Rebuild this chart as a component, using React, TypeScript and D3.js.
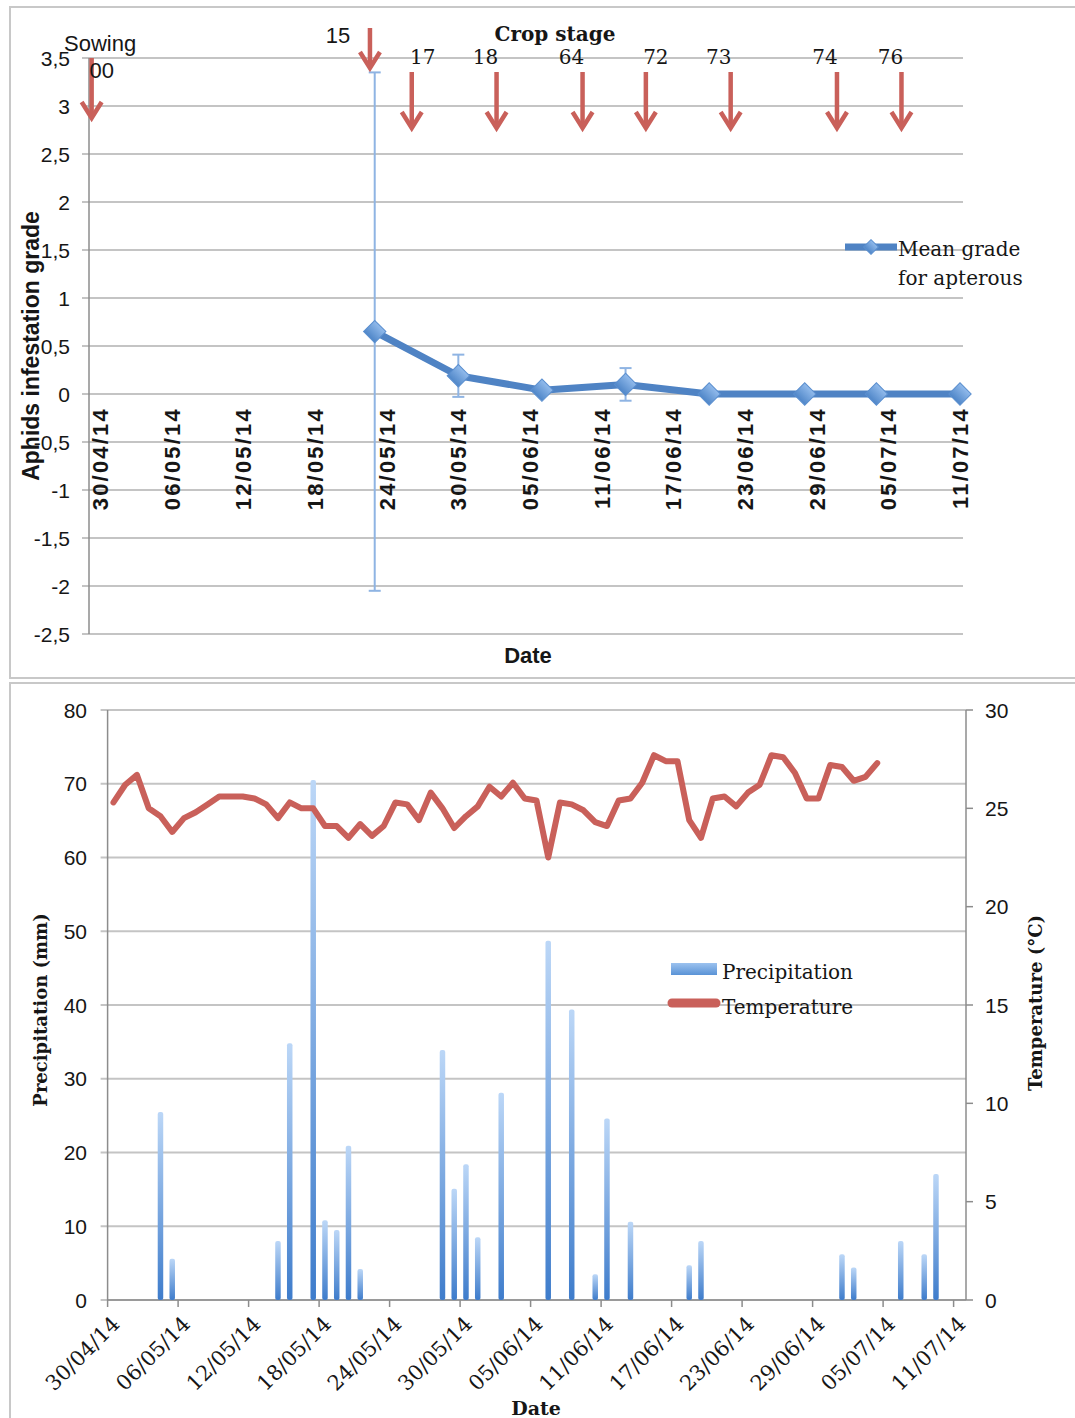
import React from 'react';
import * as d3 from 'd3';

const parse = d3.timeParse('%d/%m/%Y');
const START = '30/04/2014';
const END = '11/07/2014';

// Aphid survey: mean infestation grade of apterous aphids and its error
const surveyDates = ['23/05/2014', '30/05/2014', '06/06/2014', '13/06/2014', '20/06/2014', '28/06/2014', '04/07/2014', '11/07/2014'];
const meanGrade = [0.65, 0.19, 0.04, 0.1, 0, 0, 0, 0];
const gradeError = [2.7, 0.22, 0, 0.17, 0, 0, 0, 0];
const gradeTicks = [3.5, 3, 2.5, 2, 1.5, 1, 0.5, 0, -0.5, -1, -1.5, -2, -2.5];

// Crop stage annotations (BBCH code, days after 30/04/14)
const stageCodes = ['00', '15', '17', '18', '64', '72', '73', '74', '76'];
const stageDays = [-0.7, 22.6, 26.1, 33.2, 40.4, 45.7, 52.8, 61.7, 67.1];

// Daily weather
const rainDates = ['04/05', '05/05', '14/05', '15/05', '17/05', '18/05', '19/05', '20/05', '21/05', '28/05', '29/05', '30/05', '31/05', '02/06', '06/06', '08/06', '10/06', '11/06', '13/06', '18/06', '19/06', '01/07', '02/07', '06/07', '08/07', '09/07'];
const rainMm = [25.5, 5.6, 8, 34.8, 70.5, 10.8, 9.5, 20.9, 4.2, 33.9, 15.1, 18.4, 8.5, 28.1, 48.7, 39.4, 3.5, 24.6, 10.6, 4.7, 8, 6.2, 4.4, 8, 6.2, 17.1];
// mean daily temperature from 30/04/14, one value per day
const dailyTemp = [
  25.3, 26.2, 26.7, 25.0, 24.6, 23.8, 24.5, 24.8, 25.2, 25.6,
  25.6, 25.6, 25.5, 25.2, 24.5, 25.3, 25.0, 25.0, 24.1, 24.1,
  23.5, 24.2, 23.6, 24.1, 25.3, 25.2, 24.4, 25.8, 25.0, 24.0,
  24.6, 25.1, 26.1, 25.6, 26.3, 25.5, 25.4, 22.5, 25.3, 25.2,
  24.9, 24.3, 24.1, 25.4, 25.5, 26.3, 27.7, 27.4, 27.4, 24.4,
  23.5, 25.5, 25.6, 25.1, 25.8, 26.2, 27.7, 27.6, 26.8, 25.5,
  25.5, 27.2, 27.1, 26.4, 26.6, 27.3,
];
const rainTicks = [0, 10, 20, 30, 40, 50, 60, 70, 80];
const tempTicks = [0, 5, 10, 15, 20, 25, 30];

const SANS = "'Liberation Sans', Arial, sans-serif";
const SERIF = "'DejaVu Serif', serif";
const GRID = '#c4c4c4';
const AXIS = '#8c8c8c';
const BLUE = '#4f83c4';
const RED = '#c9605a';
const INK = '#161616';

const DAY = 864e5;
const fmtComma = (v: number) => String(v).replace('.', ',');
const fmtDate = d3.timeFormat('%d/%m/%y');

export default function App() {
  const start = parse(START)!;
  const end = parse(END)!;
  const dayOffset = (d: number) => new Date(start.getTime() + d * DAY);
  const axisDates = d3.range(0, 13).map((i) => d3.timeDay.offset(start, i * 6));

  // ---------- upper panel: aphid grade ----------
  const xTop = d3.scaleTime().domain([start, end]).range([100, 960]);
  const yTop = d3.scaleLinear().domain([-2.5, 3.5]).range([634, 58]);
  const topLeft = 89;
  const topRight = 963;
  const survey = surveyDates.map((s, i) => ({ date: parse(s)!, v: meanGrade[i], e: gradeError[i] }));
  const gradeLine = d3.line<{ date: Date; v: number }>().x((d) => xTop(d.date)).y((d) => yTop(d.v));
  const diamond = d3.symbol(d3.symbolSquare, 250)()!;
  const smallDiamond = d3.symbol(d3.symbolSquare, 110)()!;

  // arrow geometry of the stage annotations
  const arrowSpan = (i: number) => (i === 0 ? [58, 118] : i === 1 ? [28, 68] : [72, 128]);
  const labelShift = [10, -32, 11, -11, -11, 10, -12, -12, -11];

  // ---------- lower panel: weather ----------
  const xBot = d3.scaleTime().domain([start, end]).range([107.6, 953.6]);
  const botLeft = xBot(start);
  const botRight = 966;
  const yRain = d3.scaleLinear().domain([0, 80]).range([1300, 710]);
  const yTemp = d3.scaleLinear().domain([0, 30]).range([1300, 710]);
  const noon = (d: Date) => new Date(d.getTime() + DAY / 2);
  const rain = rainDates.map((s, i) => ({ date: parse(s + '/2014')!, v: rainMm[i] }));
  const temps = dailyTemp.map((t, i) => ({ date: d3.timeDay.offset(start, i), v: t }));
  const tempLine = d3
    .line<{ date: Date; v: number }>()
    .x((d) => xBot(noon(d.date)))
    .y((d) => yTemp(d.v));
  const barW = 5.5;

  const arrow = (x: number, y0: number, y1: number, key: string) => (
    <g key={key} stroke={RED} strokeWidth={4.5} fill="none">
      <line x1={x} x2={x} y1={y0} y2={y1 - 2} />
      <path d={`M${x - 10},${y1 - 16}L${x},${y1}L${x + 10},${y1 - 16}`} strokeLinejoin="miter" />
    </g>
  );

  return (
    <svg
      width={1075}
      height={1418}
      viewBox="0 0 1075 1418"
      style={{ position: 'absolute', left: 0, top: 0, background: '#fff' }}
    >
      <defs>
        <linearGradient id="barGrad" x1="0" y1="0" x2="0" y2="1">
          <stop offset="0" stopColor="#bcd7f7" />
          <stop offset="1" stopColor="#3e7ccb" />
        </linearGradient>
        <linearGradient id="swatchGrad" x1="0" y1="0" x2="0" y2="1">
          <stop offset="0" stopColor="#9cc2ef" />
          <stop offset="1" stopColor="#5a93d6" />
        </linearGradient>
        <linearGradient id="diaGrad" x1="0" y1="0" x2="0" y2="1">
          <stop offset="0" stopColor="#92bbec" />
          <stop offset="1" stopColor="#4f86c8" />
        </linearGradient>
      </defs>

      {/* panel frames */}
      <rect x={10} y={7} width={1080} height={671} fill="none" stroke="#c8c8c8" strokeWidth={2} />
      <rect x={10} y={683} width={1080} height={760} fill="none" stroke="#c8c8c8" strokeWidth={2} />

      {/* ================= upper panel ================= */}
      <g>
        {gradeTicks.map((t) => (
          <line key={'g' + t} x1={topLeft - 7} x2={topRight} y1={yTop(t)} y2={yTop(t)} stroke={GRID} strokeWidth={2} />
        ))}
        <line x1={topLeft} x2={topLeft} y1={yTop(3.5)} y2={yTop(-2.5)} stroke={AXIS} strokeWidth={1.5} />
        {gradeTicks.map((t) => (
          <text
            key={'gl' + t}
            x={70}
            y={yTop(t)}
            dy="0.36em"
            textAnchor="end"
            fontFamily={SANS}
            fontSize={21}
            fill={INK}
          >
            {fmtComma(t)}
          </text>
        ))}
        {axisDates.map((d) => (
          <text
            key={'td' + d.getTime()}
            transform={`translate(${xTop(d)},${yTop(0) + 13}) rotate(-90)`}
            dy="0.36em"
            textAnchor="end"
            fontFamily={SANS}
            fontWeight="bold"
            fontSize={22}
            letterSpacing={2.2}
            fill={INK}
          >
            {fmtDate(d)}
          </text>
        ))}
        <text
          transform={`translate(31,${346}) rotate(-90)`}
          dy="0.36em"
          textAnchor="middle"
          fontFamily={SANS}
          fontWeight="bold"
          fontSize={23}
          fill={INK}
        >
          Aphids infestation grade
        </text>
        <text x={528} y={663} textAnchor="middle" fontFamily={SANS} fontWeight="bold" fontSize={22} fill={INK}>
          Date
        </text>

        {/* error bars */}
        {survey
          .filter((d) => d.e > 0)
          .map((d) => {
            const x = xTop(d.date);
            return (
              <g key={'e' + d.date.getTime()} stroke="#8fb4e3" strokeWidth={2}>
                <line x1={x} x2={x} y1={yTop(d.v + d.e)} y2={yTop(d.v - d.e)} />
                <line x1={x - 6} x2={x + 6} y1={yTop(d.v + d.e)} y2={yTop(d.v + d.e)} />
                <line x1={x - 6} x2={x + 6} y1={yTop(d.v - d.e)} y2={yTop(d.v - d.e)} />
              </g>
            );
          })}
        <path d={gradeLine(survey)!} fill="none" stroke={BLUE} strokeWidth={7} strokeLinejoin="round" />
        {survey.map((d) => (
          <path
            key={'m' + d.date.getTime()}
            d={diamond}
            transform={`translate(${xTop(d.date)},${yTop(d.v)}) rotate(45)`}
            fill="url(#diaGrad)"
            stroke="#5b8fcf"
            strokeWidth={1}
          />
        ))}

        {/* crop stage annotations */}
        <text x={555} y={41} textAnchor="middle" fontFamily={SERIF} fontWeight="bold" fontSize={20} fill={INK}>
          Crop stage
        </text>
        <text x={64} y={51} fontFamily={SANS} fontSize={22} fill={INK}>
          Sowing
        </text>
        {stageCodes.map((c, i) => {
          const x = xTop(dayOffset(stageDays[i]));
          const [y0, y1] = arrowSpan(i);
          const sans = i < 2;
          const ly = i === 0 ? 78 : i === 1 ? 43 : 64;
          return (
            <g key={'s' + c}>
              {arrow(x, y0, y1, 'a' + c)}
              <text
                x={x + labelShift[i]}
                y={ly}
                textAnchor="middle"
                fontFamily={sans ? SANS : SERIF}
                fontSize={sans ? 22 : 20}
                fill={INK}
              >
                {c}
              </text>
            </g>
          );
        })}

        {/* legend */}
        <line x1={845} x2={897} y1={247} y2={247} stroke={BLUE} strokeWidth={7} />
        <path d={smallDiamond} transform="translate(871,247) rotate(45)" fill="url(#diaGrad)" stroke="#5b8fcf" />
        <text x={898} y={256} fontFamily={SERIF} fontSize={20} fill={INK}>
          Mean grade
        </text>
        <text x={898} y={285} fontFamily={SERIF} fontSize={20} fill={INK}>
          for apterous
        </text>
      </g>

      {/* ================= lower panel ================= */}
      <g>
        {rainTicks.map((t) => (
          <line key={'r' + t} x1={botLeft - 7} x2={botRight} y1={yRain(t)} y2={yRain(t)} stroke={GRID} strokeWidth={2} />
        ))}
        <line x1={botLeft} x2={botLeft} y1={yRain(80)} y2={yRain(0)} stroke={AXIS} strokeWidth={1.5} />
        <line x1={botRight} x2={botRight} y1={yRain(80)} y2={yRain(0)} stroke={AXIS} strokeWidth={1.5} />
        <line x1={botLeft} x2={botRight} y1={yRain(0)} y2={yRain(0)} stroke={AXIS} strokeWidth={1.5} />
        {tempTicks.map((t) => (
          <line key={'tt' + t} x1={botRight} x2={botRight + 7} y1={yTemp(t)} y2={yTemp(t)} stroke={AXIS} strokeWidth={1.5} />
        ))}
        {axisDates.map((d) => (
          <line
            key={'xt' + d.getTime()}
            x1={xBot(d)}
            x2={xBot(d)}
            y1={yRain(0)}
            y2={yRain(0) + 7}
            stroke={AXIS}
            strokeWidth={1.5}
          />
        ))}
        {rainTicks.map((t) => (
          <text key={'rl' + t} x={87} y={yRain(t)} dy="0.36em" textAnchor="end" fontFamily={SANS} fontSize={21} fill={INK}>
            {t}
          </text>
        ))}
        {tempTicks.map((t) => (
          <text key={'tl' + t} x={985} y={yTemp(t)} dy="0.36em" fontFamily={SANS} fontSize={21} fill={INK}>
            {t}
          </text>
        ))}
        {axisDates.map((d) => (
          <text
            key={'bd' + d.getTime()}
            transform={`translate(${xBot(d) + 8},${yRain(0) + 20}) rotate(-45)`}
            dy="0.36em"
            textAnchor="end"
            fontFamily={SERIF}
            fontSize={21}
            fill={INK}
          >
            {fmtDate(d)}
          </text>
        ))}
        <text x={536} y={1415} textAnchor="middle" fontFamily={SERIF} fontWeight="bold" fontSize={19} fill={INK}>
          Date
        </text>
        <text
          transform="translate(41,1010) rotate(-90)"
          dy="0.36em"
          textAnchor="middle"
          fontFamily={SERIF}
          fontWeight="bold"
          fontSize={18}
          fill={INK}
        >
          Precipitation (mm)
        </text>
        <text
          transform="translate(1036,1003) rotate(-90)"
          dy="0.36em"
          textAnchor="middle"
          fontFamily={SERIF}
          fontWeight="bold"
          fontSize={18}
          fill={INK}
        >
          Temperature (°C)
        </text>

        {/* precipitation bars */}
        {rain.map((d) => (
          <rect
            key={'b' + d.date.getTime()}
            x={xBot(noon(d.date)) - barW / 2}
            y={yRain(d.v)}
            width={barW}
            height={yRain(0) - yRain(d.v)}
            rx={2}
            fill="url(#barGrad)"
          />
        ))}
        {/* temperature line */}
        <path d={tempLine(temps)!} fill="none" stroke={RED} strokeWidth={6} strokeLinejoin="round" strokeLinecap="round" />

        {/* legend */}
        <rect x={671} y={963} width={46} height={12} fill="url(#swatchGrad)" />
        <text x={722} y={979} fontFamily={SERIF} fontSize={20} fill={INK}>
          Precipitation
        </text>
        <line x1={672} x2={716} y1={1003} y2={1003} stroke={RED} strokeWidth={9} strokeLinecap="round" />
        <text x={722} y={1014} fontFamily={SERIF} fontSize={20} fill={INK}>
          Temperature
        </text>
      </g>
    </svg>
  );
}
